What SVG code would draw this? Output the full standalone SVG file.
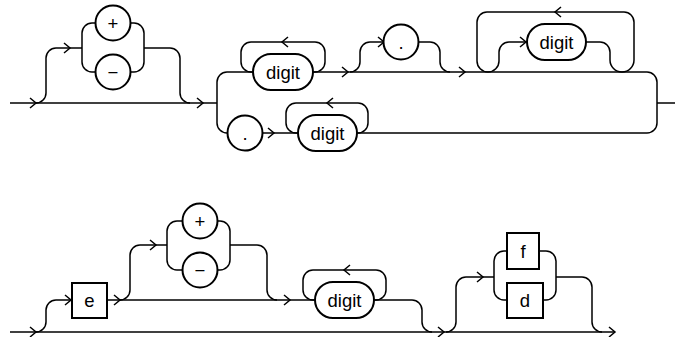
<svg xmlns="http://www.w3.org/2000/svg" xmlns:xlink="http://www.w3.org/1999/xlink" width="675" height="337" viewBox="0 0 675 337">
<style>
.ln{fill:none;stroke:#000;stroke-width:1.5}
.ar{fill:none;stroke:#000;stroke-width:1.5}
.nd{fill:#fff;stroke:#000;stroke-width:2}
.tx{font-family:"Liberation Sans",Arial,sans-serif;font-size:18.5px;fill:#000;text-anchor:middle;dominant-baseline:central}
</style>
<defs>
<path id="ra" class="ar" d="M-6,-5 L0,0 L-6,5"/>
<path id="la" class="ar" d="M6,-5 L0,0 L6,5"/>
</defs>
<g id="connectors">
<path class="ln" d="M10,103 H217"/>
<path class="ln" d="M36,103 A10 10 0 0 0 46,93 V58 A10 10 0 0 1 56,48 H82"/>
<path class="ln" d="M95,23 H92 A10 10 0 0 0 82,33 V62 A10 10 0 0 0 92,72 H95"/>
<path class="ln" d="M131,23 H134 A10 10 0 0 1 144,33 V62 A10 10 0 0 1 134,72 H131"/>
<path class="ln" d="M144,48 H170 A10 10 0 0 1 180,58 V93 A10 10 0 0 0 190,103"/>
<path class="ln" d="M227,72 A10 10 0 0 0 217,82 V123 A10 10 0 0 0 227,133"/>
<path class="ln" d="M227,72 H253"/>
<path class="ln" d="M253,72 H251 A10 10 0 0 1 241,62 V52 A10 10 0 0 1 251,42 H315 A10 10 0 0 1 325,52 V62 A10 10 0 0 1 315,72 H313"/>
<path class="ln" d="M313,72 H647 A10 10 0 0 1 657,82 V123 A10 10 0 0 1 647,133 H357"/>
<path class="ln" d="M350,72 A10 10 0 0 0 360,62 V52 A10 10 0 0 1 370,42 H384"/>
<path class="ln" d="M418,42 H430 A10 10 0 0 1 440,52 V62 A10 10 0 0 0 450,72"/>
<path class="ln" d="M488,72 A11 11 0 0 1 477,61 V22 A10 10 0 0 1 487,12 H624 A10 10 0 0 1 634,22 V60 A12 12 0 0 1 622,72"/>
<path class="ln" d="M488,72 A11 11 0 0 0 499,61 V52 A10 10 0 0 1 509,42 H527"/>
<path class="ln" d="M586,42 H600 A10 10 0 0 1 610,52 V60 A12 12 0 0 0 622,72"/>
<path class="ln" d="M657,103 H675"/>
<path class="ln" d="M262,133 H298"/>
<path class="ln" d="M298,133 H296 A10 10 0 0 1 286,123 V113 A10 10 0 0 1 296,103 H358 A10 10 0 0 1 368,113 V123 A10 10 0 0 1 358,133 H357"/>
<use xlink:href="#ra" x="36" y="103"/>
<use xlink:href="#ra" x="70" y="48"/>
<use xlink:href="#ra" x="203" y="103"/>
<use xlink:href="#la" x="282" y="42"/>
<use xlink:href="#ra" x="348" y="72"/>
<use xlink:href="#ra" x="384" y="42"/>
<use xlink:href="#ra" x="465" y="72"/>
<use xlink:href="#la" x="555" y="12"/>
<use xlink:href="#ra" x="526" y="42"/>
<use xlink:href="#ra" x="274" y="133"/>
<use xlink:href="#la" x="327" y="103"/>
<path class="ln" d="M10,332 H615"/>
<path class="ln" d="M36,332 A10 10 0 0 0 46,322 V310 A10 10 0 0 1 56,300 H72"/>
<path class="ln" d="M107,300 H315"/>
<path class="ln" d="M120,300 A10 10 0 0 0 130,290 V255 A10 10 0 0 1 140,245 H167"/>
<path class="ln" d="M182,221 H177 A10 10 0 0 0 167,231 V260 A10 10 0 0 0 177,270 H182"/>
<path class="ln" d="M218,221 H220 A10 10 0 0 1 230,231 V260 A10 10 0 0 1 220,270 H218"/>
<path class="ln" d="M230,245 H257 A10 10 0 0 1 267,255 V290 A10 10 0 0 0 277,300"/>
<path class="ln" d="M315,300 H313 A10 10 0 0 1 303,290 V280 A10 10 0 0 1 313,270 H376 A10 10 0 0 1 386,280 V290 A10 10 0 0 1 376,300 H374"/>
<path class="ln" d="M374,300 H412 A10 10 0 0 1 422,310 V322 A10 10 0 0 0 432,332"/>
<path class="ln" d="M446,332 A10 10 0 0 0 456,322 V287 A10 10 0 0 1 466,277 H494"/>
<path class="ln" d="M507,251 H504 A10 10 0 0 0 494,261 V290 A10 10 0 0 0 504,300 H507"/>
<path class="ln" d="M539,251 H546 A10 10 0 0 1 556,261 V290 A10 10 0 0 1 546,300 H543"/>
<path class="ln" d="M556,277 H582 A10 10 0 0 1 592,287 V322 A10 10 0 0 0 602,332"/>
<use xlink:href="#ra" x="36" y="332"/>
<use xlink:href="#ra" x="71" y="300"/>
<use xlink:href="#ra" x="120" y="300"/>
<use xlink:href="#ra" x="156" y="245"/>
<use xlink:href="#ra" x="290" y="300"/>
<use xlink:href="#la" x="344" y="270"/>
<use xlink:href="#ra" x="444" y="332"/>
<use xlink:href="#ra" x="483" y="277"/>
<use xlink:href="#ra" x="615" y="332"/>
</g>
<g id="plus1"><circle class="nd" cx="113" cy="23" r="17.5"/><text class="tx" x="113" y="23">+</text></g>
<g id="minus1"><circle class="nd" cx="113" cy="72" r="17.5"/><text class="tx" x="113" y="72">−</text></g>
<g id="digit1"><rect class="nd" x="253" y="54" width="60" height="36" rx="18"/><text class="tx" x="283" y="72">digit</text></g>
<g id="dot1"><circle class="nd" cx="401" cy="42" r="17.5"/><text class="tx" x="401" y="42">.</text></g>
<g id="digit2"><rect class="nd" x="527" y="24" width="59" height="36" rx="18"/><text class="tx" x="556.5" y="42">digit</text></g>
<g id="dot2"><circle class="nd" cx="245" cy="133" r="17.5"/><text class="tx" x="245" y="133">.</text></g>
<g id="digit3"><rect class="nd" x="298" y="115" width="59" height="36" rx="18"/><text class="tx" x="327.5" y="133">digit</text></g>
<g id="e"><rect class="nd" x="72" y="283" width="35" height="35"/><text class="tx" x="89.5" y="300.5">e</text></g>
<g id="plus2"><circle class="nd" cx="200" cy="221" r="17.5"/><text class="tx" x="200" y="221">+</text></g>
<g id="minus2"><circle class="nd" cx="200" cy="270" r="17.5"/><text class="tx" x="200" y="270">−</text></g>
<g id="digit4"><rect class="nd" x="315" y="282" width="59" height="36" rx="18"/><text class="tx" x="344.5" y="300">digit</text></g>
<g id="f"><rect class="nd" x="507" y="233" width="32" height="36"/><text class="tx" x="523" y="251">f</text></g>
<g id="d"><rect class="nd" x="507" y="283" width="36" height="35"/><text class="tx" x="525" y="300.5">d</text></g>
</svg>
